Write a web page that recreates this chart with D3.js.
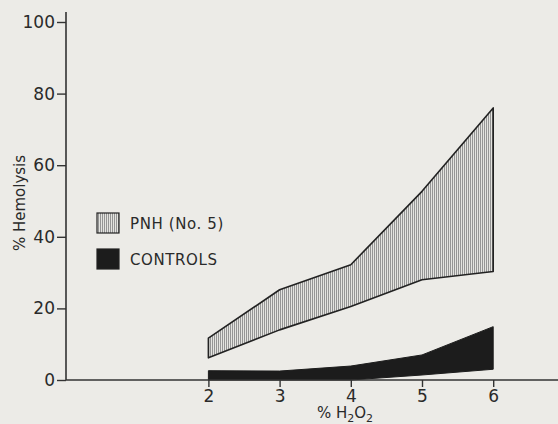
<!DOCTYPE html>
<html>
<head>
<meta charset="utf-8">
<script src="https://cdn.jsdelivr.net/npm/d3@7"></script>
<style>
  html, body { margin: 0; padding: 0; background: #ecebe7; }
  svg { display: block; }
  text { font-family: "DejaVu Sans", "Liberation Sans", sans-serif; fill: #2a2a2a; }
</style>
</head>
<body>
<div id="chart"></div>
<script>
// concentrations of H2O2 (%)
const conc = [2, 3, 4, 5, 6];
// PNH (No. 5) range, % hemolysis
const pnhLow = [6.2, 14, 20.5, 28, 30.3];
const pnhHigh = [11.7, 25.2, 32.2, 52.7, 76];
// controls range, % hemolysis
const ctrlLow = [0, 0, 0, 1.4, 3];
const ctrlHigh = [2.6, 2.5, 3.9, 7, 14.9];
const yTicks = [0, 20, 40, 60, 80, 100];
const xTicks = [2, 3, 4, 5, 6];

const width = 558, height = 424;
const margin = { top: 22, right: 0, bottom: 44, left: 66 };
const font = '"DejaVu Sans", sans-serif';

const svg = d3.select('#chart').append('svg')
  .attr('width', width)
  .attr('height', height);

const defs = svg.append('defs');
const pat = defs.append('pattern')
  .attr('id', 'vhatch')
  .attr('patternUnits', 'userSpaceOnUse')
  .attr('width', 2)
  .attr('height', 4);
pat.append('rect').attr('width', 2).attr('height', 4).attr('fill', '#e4e4e0');
pat.append('rect').attr('width', 1).attr('height', 4).attr('fill', '#959595');

const x = d3.scaleLinear()
  .domain([0, 1])
  .range([margin.left, margin.left + 71.2]);

const y = d3.scaleLinear()
  .domain([0, 100])
  .range([380, margin.top]);

const pnh = conc.map((c, i) => ({ c, lo: pnhLow[i], hi: pnhHigh[i] }));
const ctrl = conc.map((c, i) => ({ c, lo: ctrlLow[i], hi: ctrlHigh[i] }));

const area = d3.area()
  .x(d => x(d.c))
  .y0(d => y(d.lo))
  .y1(d => y(d.hi));

// PNH band
svg.append('path')
  .datum(pnh)
  .attr('d', area)
  .attr('fill', 'url(#vhatch)')
  .attr('stroke', '#222')
  .attr('stroke-width', 1.6)
  .attr('stroke-linejoin', 'round');

// controls band
svg.append('path')
  .datum(ctrl)
  .attr('d', area)
  .attr('fill', '#1c1c1c')
  .attr('stroke', '#1c1c1c')
  .attr('stroke-width', 1);

// y axis
const yAxis = svg.append('g')
  .attr('transform', `translate(${x(0)},0)`)
  .call(d3.axisLeft(y).tickValues(yTicks).tickSize(9).tickPadding(2).tickFormat(d3.format('d')));
yAxis.select('.domain').remove();
yAxis.selectAll('line').attr('stroke', '#333').attr('stroke-width', 1.4);
yAxis.selectAll('text')
  .style('font-size', '17px')
  .style('font-family', font)
  .attr('fill', '#2a2a2a');
svg.append('line')
  .attr('x1', x(0)).attr('x2', x(0))
  .attr('y1', 12).attr('y2', y(0))
  .attr('stroke', '#333').attr('stroke-width', 1.6);

// x axis
const xAxis = svg.append('g')
  .attr('transform', `translate(0,${y(0)})`)
  .call(d3.axisBottom(x).tickValues(xTicks).tickSize(7).tickPadding(3).tickFormat(d3.format('d')));
xAxis.select('.domain').remove();
xAxis.selectAll('line').attr('stroke', '#333').attr('stroke-width', 1.4);
xAxis.selectAll('text')
  .style('font-size', '17px')
  .style('font-family', font)
  .attr('fill', '#2a2a2a');
svg.append('line')
  .attr('x1', x(0)).attr('x2', width)
  .attr('y1', y(0)).attr('y2', y(0))
  .attr('stroke', '#333').attr('stroke-width', 1.6);

// axis titles
svg.append('text')
  .attr('transform', 'translate(25,203) rotate(-90)')
  .attr('text-anchor', 'middle')
  .style('font-size', '15px')
  .text('% Hemolysis');

const xt = svg.append('text')
  .attr('x', 345)
  .attr('y', 418)
  .attr('text-anchor', 'middle')
  .style('font-size', '15px');
xt.append('tspan').text('% H');
xt.append('tspan').attr('dy', 4).style('font-size', '11px').text('2');
xt.append('tspan').attr('dy', -4).text('O');
xt.append('tspan').attr('dy', 4).style('font-size', '11px').text('2');

// legend
const legend = [
  { label: 'PNH (No. 5)', fill: 'url(#vhatch)', y: 213 },
  { label: 'CONTROLS', fill: '#1c1c1c', y: 249 }
];
const lg = svg.append('g');
lg.selectAll('rect')
  .data(legend)
  .enter().append('rect')
  .attr('x', 97)
  .attr('y', d => d.y)
  .attr('width', 22)
  .attr('height', 20)
  .attr('fill', d => d.fill)
  .attr('stroke', '#222')
  .attr('stroke-width', 1.2);
lg.selectAll('text')
  .data(legend)
  .enter().append('text')
  .attr('x', 130)
  .attr('y', d => d.y + 16)
  .style('font-size', '15px')
  .style('letter-spacing', '0.6px')
  .text(d => d.label);
</script>
</body>
</html>
